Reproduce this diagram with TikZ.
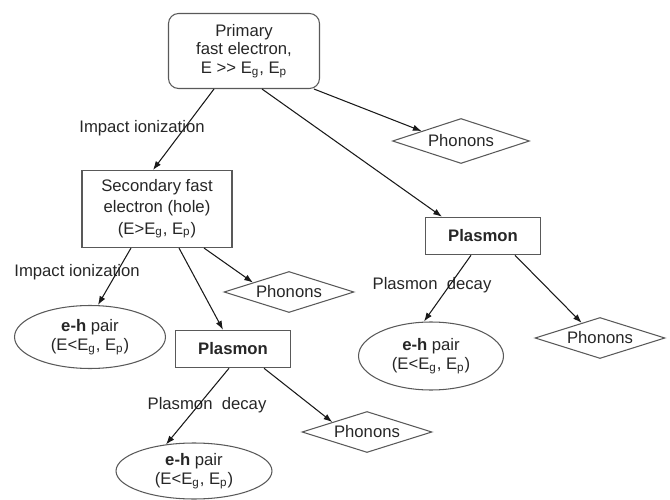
\documentclass[tikz,border=0pt]{standalone}
\usepackage{fontspec}
\setmainfont{Liberation Sans}
\usetikzlibrary{shapes.geometric,arrows.meta,calc}

\begin{document}
\begin{tikzpicture}[x=0.02cm,y=-0.02cm,
    font=\fontsize{9.5}{11}\selectfont,
    every node/.style={inner sep=0pt,text=black!85,align=center},
    box/.style={draw=black!65,line width=0.6pt,minimum width=2.3cm,minimum height=0.75cm},
    pairnode/.style={ellipse,draw=black!65,line width=0.6pt},
    phonon/.style={diamond,shape aspect=3,draw=black!65,line width=0.6pt,minimum width=2.6cm,minimum height=0.82cm},
    conn/.style={draw=black!90,line width=0.6pt,-{Latex[length=5pt,width=3.6pt]}}]
  \useasboundingbox (0,0) rectangle (670,500);

  % boxes
  \node[box,rounded corners=0.2cm,minimum width=3.02cm,minimum height=1.5cm,
        font=\fontsize{9.5}{10.5}\selectfont] (prim) at (244,51)
        {Primary\\fast electron,\\E {>}{>} E$_\mathrm{g}$, E$_\mathrm{p}$};
  \node[box,minimum width=3.0cm,minimum height=1.54cm,
        font=\fontsize{9.5}{12}\selectfont] (sec) at (157,209)
        {Secondary fast\\electron (hole)\\(E>E$_\mathrm{g}$, E$_\mathrm{p}$)};
  \node[box] (pl1) at (483,236) {\textbf{Plasmon}};
  \node[box] (pl2) at (233,349) {\textbf{Plasmon}};

  % phonons
  \node[phonon,minimum width=2.74cm,minimum height=0.9cm] (ph1) at (461,141) {Phonons};
  \node[phonon] (ph2) at (289,292) {Phonons};
  \node[phonon] (ph3) at (367,432) {Phonons};
  \node[phonon] (ph4) at (600,338) {Phonons};

  % e-h pairs
  \node[pairnode,minimum width=3.02cm,minimum height=1.26cm] (eh1) at (90,337)
        {\textbf{e-h} pair\\(E<E$_\mathrm{g}$, E$_\mathrm{p}$)};
  \node[pairnode,minimum width=2.9cm,minimum height=1.36cm] (eh2) at (431,356)
        {\textbf{e-h} pair\\(E<E$_\mathrm{g}$, E$_\mathrm{p}$)};
  \node[pairnode,minimum width=3.12cm,minimum height=1.12cm] (eh3) at (194,471)
        {\textbf{e-h} pair\\(E<E$_\mathrm{g}$, E$_\mathrm{p}$)};

  % labels
  \node (ion1) at (142,128) {Impact ionization};
  \node (ion2) at (77,272) {Impact ionization};
  \node (dec1) at (432,285) {Plasmon\ \ decay};
  \node (dec2) at (207,405) {Plasmon\ \ decay};

  % connectors
  \draw[conn] ($(prim.south)+(-30,0)$) -- ($(sec.north)+(-4,0)$);
  \draw[conn] ($(prim.south)+(18,0)$) -- ($(pl1.north)+(-41,0)$);
  \draw[conn] ($(prim.south)+(70,0)$) -- ($(ph1.west)!0.43!(ph1.north)$);
  \draw[conn] ($(sec.south)+(-26,0)$) -- ($(eh1.north)+(8,0)$);
  \draw[conn] ($(sec.south)+(22,0)$) -- ($(pl2.north)+(-10,0)$);
  \draw[conn] ($(sec.south)+(47,0)$) -- ($(ph2.west)!0.45!(ph2.north)$);
  \draw[conn] ($(pl2.south)+(-4,0)$) -- ($(eh3.north)+(-28,2)$);
  \draw[conn] ($(pl2.south)+(31,0)$) -- ($(ph3.west)!0.47!(ph3.north)$);
  \draw[conn] ($(pl1.south)+(-12,0)$) -- ($(eh2.north)+(-7,0)$);
  \draw[conn] ($(pl1.south)+(32,0)$) -- ($(ph4.west)!0.72!(ph4.north)$);
\end{tikzpicture}
\end{document}
